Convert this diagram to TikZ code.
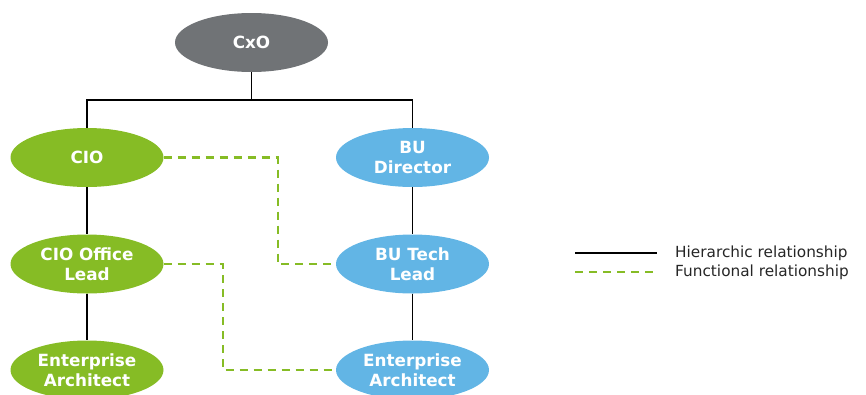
\documentclass[tikz,border=0pt]{standalone}
\usepackage{fontspec}
\setmainfont{DejaVu Sans}
\usetikzlibrary{shapes.geometric}
\definecolor{cxogray}{HTML}{707376}
\definecolor{dgreen}{HTML}{86BC25}
\definecolor{dblue}{HTML}{62B5E5}
\begin{document}
\begin{tikzpicture}[x=1pt,y=-1pt,
    role/.style={ellipse, minimum width=153pt, minimum height=59pt, inner sep=0pt,
      text=white, font=\fontsize{16.8}{20}\selectfont\bfseries, align=center},
    hier/.style={line width=1.5pt, black},
    func/.style={line width=2.2pt, dgreen, dash pattern=on 8pt off 6pt}]
        \useasboundingbox (0,0) rectangle (866,394);

        \node [role, fill=cxogray] (cxo) at (251.5,42.5) {CxO};

        \node [role, fill=dgreen] (cio) at (87,157.5) {CIO};
        \node [role, fill=dblue] (buDir) at (412.5,157.5) {BU\\Director};

        \node [role, fill=dgreen] (cioLead) at (87,264) {CIO Office\\Lead};
        \node [role, fill=dblue] (buTech) at (412.5,264) {BU Tech\\Lead};

        \node [role, fill=dgreen] (eaLeft) at (87,370) {Enterprise\\Architect};
        \node [role, fill=dblue] (eaRight) at (412.5,370) {Enterprise\\Architect};

        % hierarchy
        \coordinate (bar) at (251.5,100);
        \draw [hier] (cxo.south) -- (bar);
        \draw [hier] (cio.north) |- (bar) -| (buDir.north);
        \draw [hier] (cio) -- (cioLead);
        \draw [hier] (cioLead) -- (eaLeft);
        \draw [hier] (buDir) -- (buTech);
        \draw [hier] (buTech) -- (eaRight);

        % functional links
        \draw [func] (cio.east) -- ++(114,0) |- (buTech.west);
        \draw [func] (cioLead.east) -- ++(59,0) |- (eaRight.west);

        % legend
        \coordinate (hierA) at (575,253);
        \coordinate (hierB) at (657,253);
        \coordinate (funcA) at (575,272);
        \coordinate (funcB) at (657,272);
        \draw [hier] (hierA) -- (hierB);
        \draw [func] (funcA) -- (funcB);
        \node [anchor=west, font=\fontsize{15.3}{18}\selectfont, text=black!85, inner sep=0pt] (hierText) at (675,253) {Hierarchic relationship};
        \node [anchor=west, font=\fontsize{15.3}{18}\selectfont, text=black!85, inner sep=0pt] (funcText) at (675,272) {Functional relationship};
\end{tikzpicture}
\end{document}
